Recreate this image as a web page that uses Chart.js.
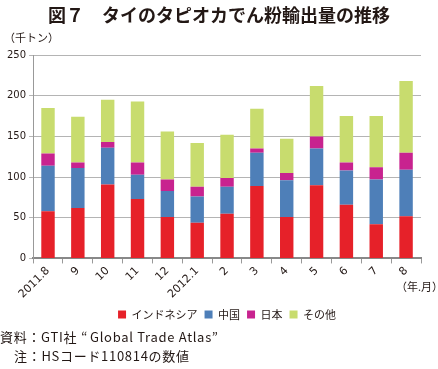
<!DOCTYPE html>
<html>
<head>
<meta charset="utf-8">
<script src="https://cdn.jsdelivr.net/npm/chart.js@4/dist/chart.umd.min.js"></script>
<style>
  html, body { margin: 0; padding: 0; background: #fff; }
  body { width: 438px; height: 369px; position: relative; overflow: hidden;
         font-family: "Noto Sans CJK JP", sans-serif; color: #231815; }
  #wrap { position: absolute; left: 0; top: 0; width: 438px; height: 330px; }
  .txt { position: absolute; white-space: nowrap; line-height: 1; }
  #title { left: 0; width: 438px; top: 5px; text-align: center; font-size: 18px; font-weight: bold; }
  #unit { left: 4px; top: 32px; font-size: 11px; }
  #ym { left: 396px; top: 281px; font-size: 11px; }
  #src, #note { font-size: 13px; letter-spacing: 0.7px; }
  #src { left: 0; top: 330px; }
  #note { left: 14px; top: 349px; }
  .q1 { margin-left: 4px; margin-right: 2px; }
</style>
</head>
<body>
<div id="wrap"><canvas id="chart"></canvas></div>
<div class="txt" id="title">図７　タイのタピオカでん粉輸出量の推移</div>
<div class="txt" id="unit">（千トン）</div>
<div class="txt" id="ym">（年.月）</div>
<div class="txt" id="src">資料：GTI社<span class="q1">“</span>Global Trade Atlas”</div>
<div class="txt" id="note">注：HSコード110814の数値</div>
<script>
const months = ['2011.8', '9', '10', '11', '12', '2012.1', '2', '3', '4', '5', '6', '7', '8'];
const indonesia = [58, 62, 91, 73, 51, 44, 55, 89, 51, 90, 66, 42, 52];
const china     = [56, 49, 45, 30, 32, 32, 33, 41, 45, 45, 42, 55, 57];
const japan     = [15,  7,  7, 15, 14, 12, 11,  5,  9, 15, 10, 15, 21];
const others    = [56, 56, 52, 75, 59, 54, 53, 49, 42, 62, 57, 63, 88];
const yTicks = [0, 50, 100, 150, 200, 250];

function series(label, data, color) {
  return { label, data, backgroundColor: color, borderWidth: 0,
           barPercentage: 0.45, categoryPercentage: 1 };
}

new Chart(document.getElementById('chart'), {
  type: 'bar',
  data: {
    labels: months,
    datasets: [
      series('インドネシア', indonesia, '#e62129'),
      series('中国', china, '#4e7fb8'),
      series('日本', japan, '#c8238f'),
      series('その他', others, '#c8dc6e'),
    ],
  },
  options: {
    responsive: true,
    maintainAspectRatio: false,
    animation: false,
    layout: { padding: { top: 55, left: 4, right: 17, bottom: 0 } },
    plugins: {
      tooltip: { enabled: false },
      legend: {
        position: 'bottom',
        fullSize: false,
        labels: {
          color: '#231815',
          font: { family: 'Noto Sans CJK JP', size: 11 },
          boxWidth: 8, boxHeight: 8, padding: 7,
        },
      },
    },
    scales: {
      x: {
        stacked: true,
        grid: { display: true, drawOnChartArea: false, drawTicks: true, tickLength: 5, color: '#999' },
        border: { color: '#888', width: 2 },
        ticks: { color: '#231815', font: { family: 'DejaVu Sans', size: 11 }, maxRotation: 45, minRotation: 45, padding: 1 },
      },
      y: {
        stacked: true,
        min: 0, max: 250,
        afterBuildTicks: axis => { axis.ticks = yTicks.map(v => ({ value: v })); },
        grid: { color: '#b4b4b4', tickLength: 4 },
        border: { color: '#999', width: 1 },
        ticks: { color: '#231815', font: { family: 'DejaVu Sans', size: 10 }, padding: 3 },
      },
    },
  },
});
</script>
</body>
</html>
